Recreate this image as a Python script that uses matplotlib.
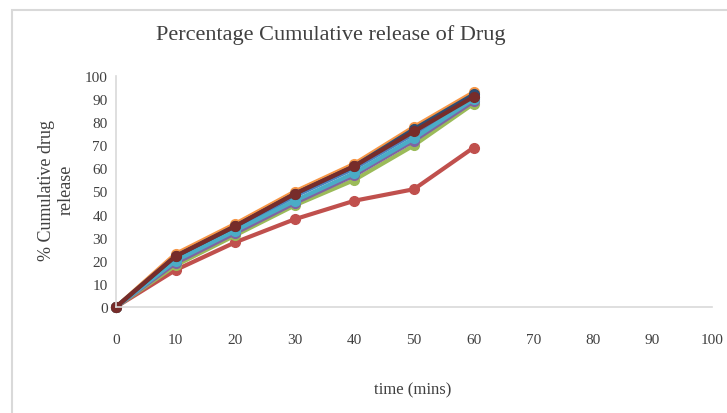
#!/usr/bin/env python3

import matplotlib
matplotlib.use("Agg")
import matplotlib.pyplot as plt
from matplotlib.patches import Rectangle

time_min = [0, 10, 20, 30, 40, 50, 60]

# % cumulative release per formulation
f1 = [0, 21, 34, 48, 60, 75, 91]
f2 = [0, 16, 28, 38, 46, 51, 69]
f3 = [0, 18, 31, 44, 55, 70, 88]
f4 = [0, 19, 32, 45, 57, 72, 89]
f5 = [0, 20, 33, 46, 58, 73, 90]
f6 = [0, 23, 36, 50, 62, 78, 93]
f7 = [0, 22, 35, 49, 61, 77, 92]
f8 = [0, 22, 35, 49, 61, 76, 91]

series = [f1, f2, f3, f4, f5, f6, f7, f8]
colors = ["#4F81BD", "#C0504D", "#9BBB59", "#8064A2",
          "#4BACC6", "#F79646", "#2C4D75", "#772C2A"]

x_ticks = list(range(0, 101, 10))
y_ticks = list(range(0, 101, 10))

plt.rcParams["font.family"] = ["Liberation Serif", "DejaVu Serif"]

fig = plt.figure(figsize=(7.27, 4.14), dpi=100)
# light chart-area border (runs off the right and bottom edges)
fig.patches.append(Rectangle((12 / 727, -0.1), 1.2, 1.1 - 11 / 414,
                             transform=fig.transFigure, fill=False,
                             edgecolor="#d9d9d9", linewidth=1.5))

ax = fig.add_axes([116 / 727, 1 - 308 / 414, 596 / 727, 231 / 414])
for s, c in zip(series, colors):
    ax.plot(time_min, s, color=c, linewidth=3, marker="o",
            markersize=7, clip_on=False)

ax.set_xlim(0, 100)
ax.set_ylim(0, 100)
ax.set_xticks(x_ticks)
ax.set_yticks(y_ticks)
ax.tick_params(length=0, labelsize=11, colors="#404040")
ax.tick_params(axis="x", pad=19)
ax.tick_params(axis="y", pad=6)
for side in ["top", "right"]:
    ax.spines[side].set_visible(False)
for side in ["left", "bottom"]:
    ax.spines[side].set_color("#d9d9d9")
    ax.spines[side].set_linewidth(1.2)

ax.set_xlabel("time (mins)", fontsize=12, color="#404040")
ax.xaxis.set_label_coords(0.498, -0.32)
ax.set_ylabel("% Cumulative drug\nrelease", fontsize=13, color="#404040",
              linespacing=1.15)
ax.yaxis.set_label_coords(-0.07, 0.51)
fig.text(331 / 727, 1 - 35 / 414, "Percentage Cumulative release of Drug",
         ha="center", va="center", fontsize=16, color="#404040")

fig.savefig("out.png", dpi=100)
